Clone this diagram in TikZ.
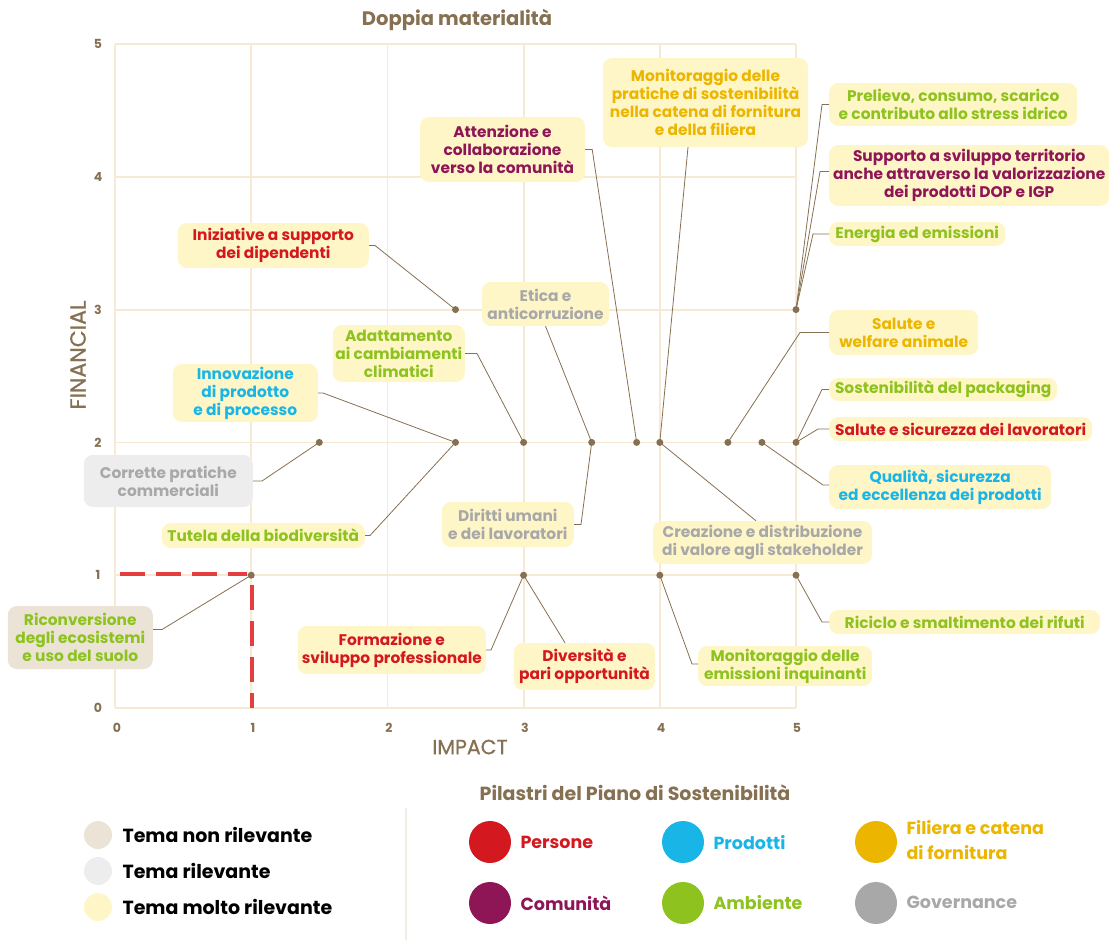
\documentclass[tikz,border=0pt]{standalone}
\usepackage{fontspec}
\setmainfont{Poppins}
\newfontfamily\medfont{Poppins}[FakeBold=0.8]
\definecolor{cred}{HTML}{D3191F}
\definecolor{cpur}{HTML}{8E1656}
\definecolor{ccya}{HTML}{19B5E6}
\definecolor{cora}{HTML}{EBB500}
\definecolor{cgre}{HTML}{8DC21F}
\definecolor{cgry}{HTML}{A8A8A8}
\definecolor{cbrn}{HTML}{857052}
\definecolor{cbox}{HTML}{FFF6C7}
\definecolor{cgbox}{HTML}{EDEDED}
\definecolor{cbbox}{HTML}{EBE3D6}
\definecolor{cgrid}{HTML}{F6EAD5}
\definecolor{cdash}{HTML}{E53E3E}
\newcommand{\lblfont}{\bfseries\fontsize{15.4}{18}\selectfont}
\begin{document}
\begin{tikzpicture}[x=1pt,y=-1pt,
  gridline/.style={draw=cgrid,line width=1.8pt},
  lbl/.style={fill=cbox,rounded corners=9pt,inner sep=0pt,align=center,font=\lblfont},
  dot/.style={circle,fill=cbrn,inner sep=0pt,minimum size=7pt},
  conn/.style={draw=cbrn,line width=0.8pt},
  tick/.style={font=\bfseries\fontsize{12.5}{14}\selectfont,text=cbrn},
  reddash/.style={draw=cdash,line width=3.3pt,dash pattern=on 25pt off 11pt},
  legtxt/.style={font=\bfseries\fontsize{19}{20}\selectfont,anchor=west},
  pil/.style={font=\bfseries\fontsize{17.5}{25}\selectfont,anchor=west,align=left}
]
\useasboundingbox (0,0) rectangle (1110,940);
% grid
\foreach \i in {0,...,5}{
  \draw[gridline] ({115+136.2*\i},44) -- ({115+136.2*\i},708);
  \draw[gridline] (115,{708-132.8*\i}) -- (796,{708-132.8*\i});
  \node[tick] (xt\i) at ({117+136*\i},728) {\i};
  \node[tick] (yt\i) at (98,{708-132.8*\i}) {\i};
}
% titles
\node[font=\bfseries\fontsize{19.5}{20}\selectfont,text=cbrn] (title) at (457,20) {Doppia materialità};
\node[font=\medfont\fontsize{22}{22}\selectfont,text=cbrn,rotate=90] (ylab) at (78,355) {FINANCIAL};
\node[font=\medfont\fontsize{20.5}{22}\selectfont,text=cbrn] (xlab) at (470,747) {IMPACT};
% red dashed
\coordinate (rdh) at (120,574);
\coordinate (rdh2) at (247,574);
\coordinate (rdv) at (252,585);
\coordinate (rdv2) at (252,708);
\draw[reddash] (rdh) -- (rdh2);
\draw[reddash] (rdv) -- (rdv2);
% dots
\newcommand{\dd}[3]{\node[dot] (#1) at ({115+136.2*#2},{708-132.8*#3}) {};}
\dd{pA}{2.5}{3}
\dd{pB}{5}{3}
\dd{pC}{1.5}{2}
\dd{pD}{2.5}{2}
\dd{pE}{3}{2}
\dd{pF}{3.5}{2}
\dd{pG}{3.83}{2}
\dd{pH}{4}{2}
\dd{pI}{4.5}{2}
\dd{pJ}{4.75}{2}
\dd{pK}{5}{2}
\dd{pL}{1}{1}
\dd{pM}{3}{1}
\dd{pN}{4}{1}
\dd{pO}{5}{1}
% labels
\node[lbl,text=cpur,minimum width=165pt,minimum height=65pt] (att) at (502.5,149.5) {Attenzione e\\collaborazione\\verso la comunità};
\node[lbl,text=cora,minimum width=205pt,minimum height=89pt] (mp) at (705.5,102.5) {Monitoraggio delle\\pratiche di sostenibilità\\nella catena di fornitura\\e della filiera};
\node[lbl,text=cgre,minimum width=248pt,minimum height=43pt,anchor=west] (pre) at (829,104.5) {Prelievo, consumo, scarico\\e contributo allo stress idrico};
\node[lbl,text=cpur,minimum width=280pt,minimum height=61pt,anchor=west] (sup) at (829,175.5) {Supporto a sviluppo territorio\\anche attraverso la valorizzazione\\dei prodotti DOP e IGP};
\node[lbl,text=cgre,minimum width=176pt,minimum height=24pt,anchor=west] (ene) at (829,234) {Energia ed emissioni};
\node[lbl,text=cred,minimum width=191pt,minimum height=45pt,anchor=east] (ini) at (369,245.5) {Iniziative a supporto\\dei dipendenti};
\node[lbl,text=cgry,minimum width=127pt,minimum height=44pt] (eti) at (545.5,304) {Etica e\\anticorruzione};
\node[lbl,text=cgre,minimum width=132pt,minimum height=57pt,anchor=east] (ada) at (465,353.5) {Adattamento\\ai cambiamenti\\climatici};
\node[lbl,text=ccya,minimum width=145pt,minimum height=58pt,anchor=east] (inn) at (318,393) {Innovazione\\di prodotto\\e di processo};
\node[lbl,fill=cgbox,text=cgry,minimum width=169pt,minimum height=52pt,anchor=east] (cor) at (253,481) {Corrette pratiche\\commerciali};
\node[lbl,text=cgre,minimum width=203pt,minimum height=25pt,anchor=east] (tut) at (365,535.5) {Tutela della biodiversità};
\node[lbl,text=cgry,minimum width=132pt,minimum height=45pt,anchor=east] (dir) at (574,524.5) {Diritti umani\\e dei lavoratori};
\node[lbl,text=cgry,minimum width=219pt,minimum height=43pt] (cre) at (762.5,542.5) {Creazione e distribuzione\\di valore agli stakeholder};
\node[lbl,text=cora,minimum width=149pt,minimum height=45pt,anchor=west] (saw) at (829,332.5) {Salute e\\welfare animale};
\node[lbl,text=cgre,minimum width=228pt,minimum height=23pt,anchor=west] (pac) at (829,389.5) {Sostenibilità del packaging};
\node[lbl,text=cred,minimum width=263pt,minimum height=24pt,anchor=west] (sal) at (829,429) {Salute e sicurezza dei lavoratori};
\node[lbl,text=ccya,minimum width=222pt,minimum height=44pt,anchor=west] (qua) at (829,487) {Qualità, sicurezza\\ed eccellenza dei prodotti};
\node[lbl,fill=cbbox,text=cgre,minimum width=145pt,minimum height=63pt,anchor=east] (ric) at (153,637.5) {Riconversione\\degli ecosistemi\\e uso del suolo};
\node[lbl,text=cred,minimum width=188pt,minimum height=48pt,anchor=east] (for) at (486,650) {Formazione e\\sviluppo professionale};
\node[lbl,text=cred,minimum width=141pt,minimum height=47pt] (div) at (584.5,666.5) {Diversità e\\pari opportunità};
\node[lbl,text=cgre,minimum width=174pt,minimum height=40pt,anchor=west] (mem) at (698,666) {Monitoraggio delle\\emissioni inquinanti};
\node[lbl,text=cgre,minimum width=271pt,minimum height=24pt,anchor=west] (rif) at (829,622) {Riciclo e smaltimento dei rifuti};
% connectors
\draw[conn] (att.east) -- ++(7,0) -- (pG.center);
\draw[conn] ([xshift=-17.5pt]mp.south) -- (pH.center);
\draw[conn] (pre.west) -- ++(-7,0) -- (pB.center);
\draw[conn] ([yshift=4pt]sup.west) -- ++(-9,0) -- (pB.center);
\draw[conn] (ene.west) -- ++(-16,0) -- (pB.center);
\draw[conn] (ini.east) -- ++(6,0) -- (pA.center);
\draw[conn] (eti.south) -- (pF.center);
\draw[conn] (ada.east) -- ++(12,0) -- (pE.center);
\draw[conn] (inn.east) -- ++(5,0) -- (pD.center);
\draw[conn] (cor.east) -- ++(9,0) -- (pC.center);
\draw[conn] (tut.east) -- ++(5,0) -- (pD.center);
\draw[conn] (dir.east) -- ++(7,0) -- (pF.center);
\draw[conn] ([xshift=-6.5pt]cre.north) -- (pH.center);
\draw[conn] (saw.west) -- ++(-29,0) -- (pI.center);
\draw[conn] (pac.west) -- ++(-7,0) -- (pK.center);
\draw[conn] (sal.west) -- ++(-11,0) -- (pK.center);
\draw[conn] ([yshift=2pt]qua.west) -- ++(-6,0) -- (pJ.center);
\draw[conn] ([yshift=8pt]ric.east) -- ++(9,0) -- (pL.center);
\draw[conn] (for.east) -- ++(5,0) -- (pM.center);
\draw[conn] ([xshift=-19.5pt]div.north) -- (pM.center);
\draw[conn] ([yshift=2pt]mem.west) -- ++(-6,0) -- (pN.center);
\draw[conn] (rif.west) -- ++(-7,0) -- (pO.center);
% legend
\node[font=\bfseries\fontsize{19}{20}\selectfont,text=cbrn] (legt) at (635,793) {Pilastri del Piano di Sostenibilità};
\coordinate (divA) at (406,808);
\coordinate (divB) at (406,940);
\draw[draw=cgrid!80!cbrn!40,line width=1.3pt] (divA) -- (divB);
\node[circle,fill=cbbox,minimum size=28pt,inner sep=0pt] (l1) at (98,835) {};
\node[circle,fill=cgbox,minimum size=28pt,inner sep=0pt] (l2) at (98,871) {};
\node[circle,fill=cbox,minimum size=28pt,inner sep=0pt] (l3) at (98,907) {};
\node[legtxt] (l1t) at (119,835) {Tema non rilevante};
\node[legtxt] (l2t) at (119,871) {Tema rilevante};
\node[legtxt] (l3t) at (119,907) {Tema molto rilevante};
\node[circle,fill=cred,minimum size=42pt,inner sep=0pt] (c1) at (490,842) {};
\node[circle,fill=cpur,minimum size=42pt,inner sep=0pt] (c2) at (490,903) {};
\node[circle,fill=ccya,minimum size=42pt,inner sep=0pt] (c3) at (683,842) {};
\node[circle,fill=cgre,minimum size=42pt,inner sep=0pt] (c4) at (683,903) {};
\node[circle,fill=cora,minimum size=42pt,inner sep=0pt] (c5) at (876,842) {};
\node[circle,fill=cgry,minimum size=42pt,inner sep=0pt] (c6) at (876,903) {};
\node[pil,text=cred] (c1t) at (517,842) {Persone};
\node[pil,text=cpur] (c2t) at (517,903) {Comunità};
\node[pil,text=ccya] (c3t) at (710,843) {Prodotti};
\node[pil,text=cgre] (c4t) at (710,903) {Ambiente};
\node[pil,text=cora] (c5t) at (903,840) {Filiera e catena\\di fornitura};
\node[pil,text=cgry] (c6t) at (903,902) {Governance};
\end{tikzpicture}
\end{document}
